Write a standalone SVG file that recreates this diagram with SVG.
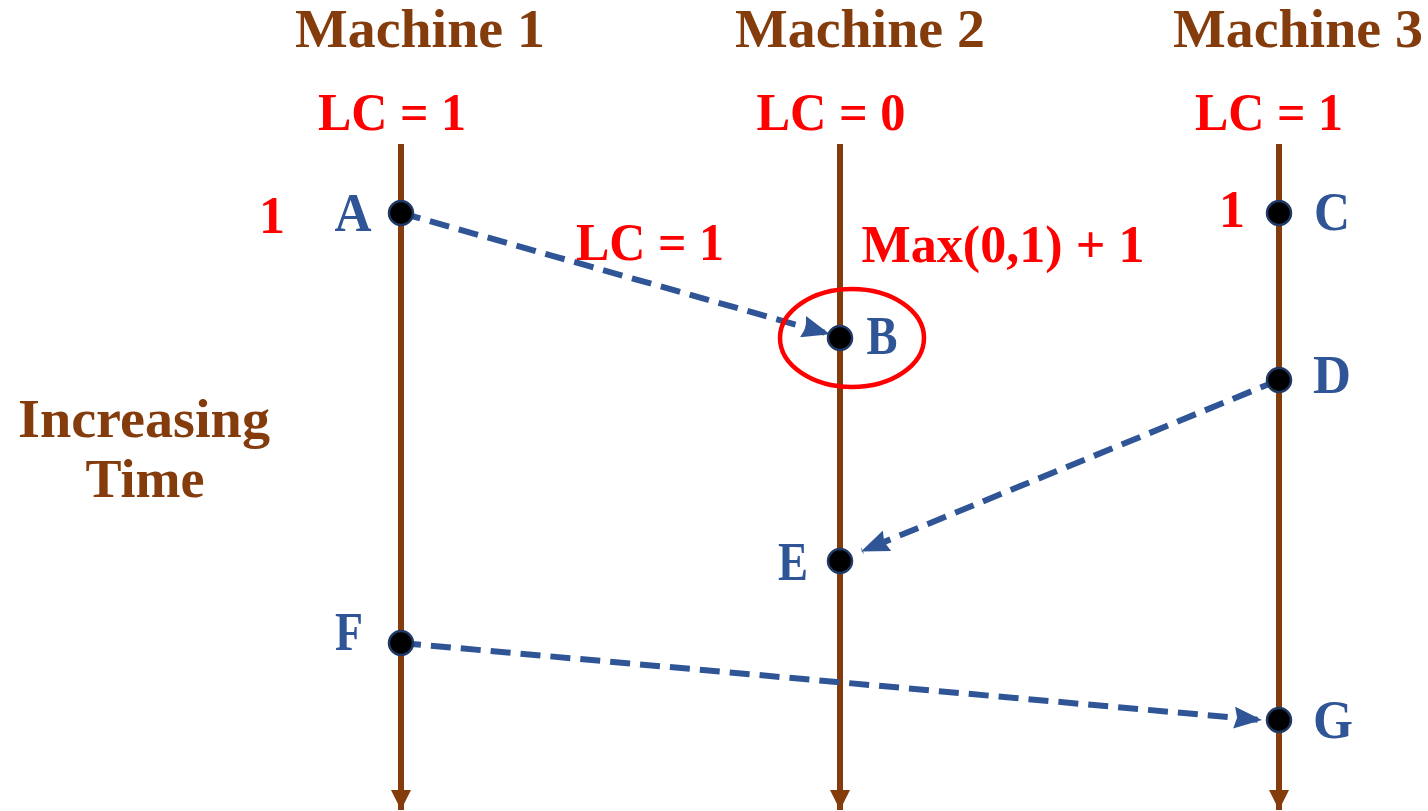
<svg xmlns="http://www.w3.org/2000/svg" width="1428" height="811" viewBox="0 0 1428 811">
<style>
text{font-family:"Liberation Serif","DejaVu Serif",serif;font-weight:bold;text-anchor:middle}
.m{fill:#843C0C;font-size:54px}
.lc{fill:#FF0000;font-size:52px}
.n{fill:#2F5597;font-size:54px}
.tl{stroke:#843C0C;stroke-width:6}
.msg{stroke:#2F5597;stroke-width:6;stroke-dasharray:20 10;fill:none}
.dot{fill:#000;stroke:#1F3864;stroke-width:2.5}
</style>
<defs>
<marker id="ma" viewBox="0 0 28 22" refX="27" refY="11" markerWidth="28" markerHeight="22" orient="auto" markerUnits="userSpaceOnUse">
<path d="M0,0 L28,11 L0,22 L3,11 z" fill="#2F5597"/>
</marker>
<marker id="ta" viewBox="0 0 10 10" refX="10" refY="5" markerWidth="20" markerHeight="20" orient="auto" markerUnits="userSpaceOnUse">
<path d="M0,0 L10,5 L0,10 z" fill="#843C0C"/>
</marker>
</defs>
<g id="labels">
<text class="m" x="420" y="47" textLength="250" lengthAdjust="spacingAndGlyphs">Machine 1</text>
<text class="m" x="860" y="47" textLength="250" lengthAdjust="spacingAndGlyphs">Machine 2</text>
<text class="m" x="1298" y="47" textLength="250" lengthAdjust="spacingAndGlyphs">Machine 3</text>
<text class="lc" x="392" y="130" textLength="148" lengthAdjust="spacingAndGlyphs">LC = 1</text>
<text class="lc" x="831" y="130" textLength="149" lengthAdjust="spacingAndGlyphs">LC = 0</text>
<text class="lc" x="1269" y="130" textLength="148" lengthAdjust="spacingAndGlyphs">LC = 1</text>
<text class="m" x="144" y="437" textLength="252" lengthAdjust="spacingAndGlyphs">Increasing</text>
<text class="m" x="145" y="497">Time</text>
</g>
<g id="connectors">
<line class="tl" x1="401" y1="144" x2="401" y2="810" marker-end="url(#ta)"/>
<line class="tl" x1="840" y1="144" x2="840" y2="810" marker-end="url(#ta)"/>
<line class="tl" x1="1279" y1="144" x2="1279" y2="810" marker-end="url(#ta)"/>
<line id="A-B" class="msg" x1="401" y1="213" x2="829" y2="334" marker-end="url(#ma)"/>
<line id="D-E" class="msg" x1="1279" y1="380" x2="862" y2="551" marker-end="url(#ma)"/>
<line id="F-G" class="msg" x1="401" y1="643" x2="1261" y2="720" marker-end="url(#ma)"/>
<text class="lc" x="650" y="260" textLength="148" lengthAdjust="spacingAndGlyphs">LC = 1</text>
</g>
<g id="nodeA"><circle class="dot" cx="401" cy="213" r="12"/><text class="n" x="353" y="231" textLength="37" lengthAdjust="spacingAndGlyphs">A</text><text class="lc" x="272" y="233">1</text></g>
<g id="nodeB"><ellipse cx="852" cy="338" rx="72" ry="49" fill="none" stroke="#FF0000" stroke-width="4.5"/><circle class="dot" cx="840" cy="338" r="12"/><text class="n" x="882" y="354" textLength="31" lengthAdjust="spacingAndGlyphs">B</text><text class="lc" x="1003" y="262" textLength="283" lengthAdjust="spacingAndGlyphs">Max(0,1) + 1</text></g>
<g id="nodeC"><circle class="dot" cx="1279" cy="213" r="12"/><text class="n" x="1332" y="230" textLength="36" lengthAdjust="spacingAndGlyphs">C</text><text class="lc" x="1232" y="227">1</text></g>
<g id="nodeD"><circle class="dot" cx="1279" cy="380" r="12"/><text class="n" x="1332" y="393" textLength="38" lengthAdjust="spacingAndGlyphs">D</text></g>
<g id="nodeE"><circle class="dot" cx="840" cy="561" r="12"/><text class="n" x="793" y="580" textLength="30" lengthAdjust="spacingAndGlyphs">E</text></g>
<g id="nodeF"><circle class="dot" cx="401" cy="643" r="12"/><text class="n" x="349" y="650" textLength="28" lengthAdjust="spacingAndGlyphs">F</text></g>
<g id="nodeG"><circle class="dot" cx="1279" cy="720" r="12"/><text class="n" x="1333" y="738" textLength="40" lengthAdjust="spacingAndGlyphs">G</text></g>
</svg>
